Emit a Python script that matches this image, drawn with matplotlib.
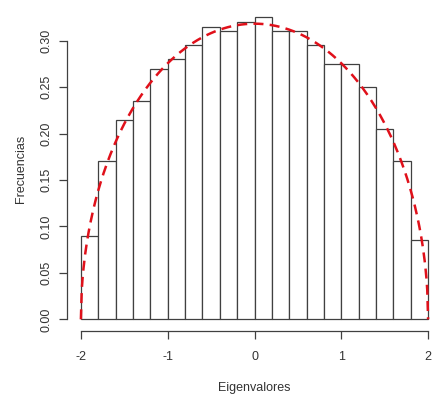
import numpy as np
import matplotlib.pyplot as plt

plt.rcParams['font.family'] = ['Liberation Sans', 'DejaVu Sans']

# histogram of eigenvalues (bin edges and densities)
bin_edges = [-2.0, -1.8, -1.6, -1.4, -1.2, -1.0, -0.8, -0.6, -0.4, -0.2, 0.0,
             0.2, 0.4, 0.6, 0.8, 1.0, 1.2, 1.4, 1.6, 1.8, 2.0]
densities = [0.09, 0.17, 0.215, 0.235, 0.27, 0.28, 0.295, 0.315, 0.31, 0.32,
             0.325, 0.31, 0.31, 0.295, 0.275, 0.275, 0.25, 0.205, 0.17, 0.085]

# semicircle law drawn over it, radius
radius = 2.0

x_ticks = [-2, -1, 0, 1, 2]
y_ticks = [0.00, 0.05, 0.10, 0.15, 0.20, 0.25, 0.30]

fig = plt.figure(figsize=(4.32, 3.95), dpi=100)
ax = fig.add_axes([67 / 432, 1 - 331.4 / 395, 375 / 432, 326 / 395])

left = np.array(bin_edges[:-1])
widths = np.diff(bin_edges)
ax.bar(left, densities, width=widths, align='edge', color='white',
       edgecolor='#404040', linewidth=0.9)

xs = np.linspace(-radius, radius, 400)
ax.plot(xs, np.sqrt(radius**2 - xs**2) / (np.pi * radius**2 / 2),
        color='#e0101a', linewidth=1.8, linestyle=(0, (4, 2.5)))

ax.set_xlim(-2.16, 2.16)
ax.set_ylim(-0.013, 0.338)
for s in ['top', 'right']:
    ax.spines[s].set_visible(False)
ax.spines['left'].set_bounds(0, 0.30)
ax.spines['bottom'].set_bounds(-2, 2)
for s in ['left', 'bottom']:
    ax.spines[s].set_color('#404040')
    ax.spines[s].set_linewidth(0.9)

ax.set_xticks(x_ticks)
ax.set_xticklabels([str(t) for t in x_ticks])
ax.set_yticks(y_ticks)
ax.set_yticklabels(['%.2f' % t for t in y_ticks], rotation=90, va='center')
ax.tick_params(axis='both', direction='out', length=5.5, width=0.9,
               color='#404040', labelsize=9, labelcolor='#333333')
ax.tick_params(axis='x', pad=8.5)
ax.tick_params(axis='y', pad=4.6)

ax.set_xlabel('Eigenvalores', fontsize=9, color='#333333', labelpad=14)
ax.set_ylabel('Frecuencias', fontsize=9, color='#333333', labelpad=10)

fig.savefig('out.png', dpi=100)
